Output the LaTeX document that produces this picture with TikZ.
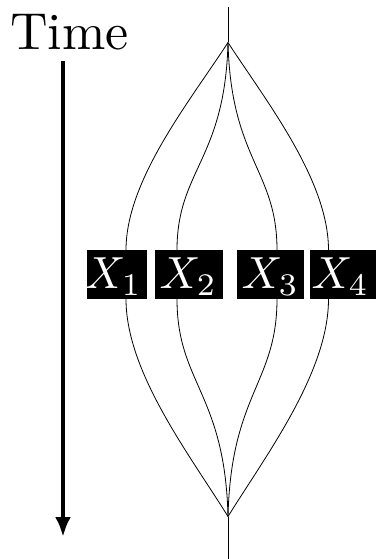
\documentclass[tikz,border=0pt]{standalone}
\usetikzlibrary{arrows.meta}
\begin{document}
\begin{tikzpicture}[x=1pt,y=-1pt,
  thin line/.style={line width=0.8pt},
  xbox/.style={fill=black, draw=none, minimum height=49pt, inner sep=0pt},
  xlab/.style={text=white, scale=4.5, inner sep=0pt, anchor=base east},
  timearrow/.style={line width=4pt, -{Latex[length=20pt,width=16pt]}}]
\useasboundingbox (0,0) rectangle (375,559);
% time label and arrow
\node[scale=5.2, anchor=base west, inner sep=0pt] (time) at (9,50) {Time};
\coordinate (ta) at (63,61);
\coordinate (tb) at (63,537);
\draw[timearrow] (ta) -- (tb);
% boxes
\node[xbox, minimum width=60pt] (b1) at (117.3,274.5) {};
\node[xbox, minimum width=67.7pt] (b2) at (188.9,274.5) {};
\node[xbox, minimum width=66.7pt] (b3) at (270.3,274.5) {};
\node[xbox, minimum width=67pt] (b4) at (343.5,274.5) {};
\node[xlab] (l1) at (143,288.5) {$X_1$};
\node[xlab] (l2) at (218,288.5) {$X_2$};
\node[xlab] (l3) at (300,288.5) {$X_3$};
\node[xlab] (l4) at (370,288.5) {$X_4$};
% attach points
\coordinate (a1t) at (126,250); \coordinate (a1b) at (126,299);
\coordinate (a2t) at (177,250); \coordinate (a2b) at (177,299);
\coordinate (a3t) at (277,250); \coordinate (a3b) at (277,299);
\coordinate (a4t) at (328.5,250); \coordinate (a4b) at (328.5,299);
\coordinate (top) at (228,42.5);
\coordinate (bot) at (228,516.5);
\coordinate (vt) at (228,7);
\coordinate (vb) at (228,559);
\draw[thin line] (vt) -- (top);
\draw[thin line] (bot) -- (vb);
% top curves
\draw[thin line] (top) .. controls (190,101) and (126,180) .. (a1t);
\draw[thin line] (top) .. controls (225,160) and (177,170) .. (a2t);
\draw[thin line] (top) .. controls (231,160) and (277,170) .. (a3t);
\draw[thin line] (top) .. controls (266,101) and (328.5,180) .. (a4t);
% bottom curves
\draw[thin line] (a1b) .. controls (126,372.4) and (190,455.2) .. (bot);
\draw[thin line] (a2b) .. controls (177,383) and (225,393.4) .. (bot);
\draw[thin line] (a3b) .. controls (277,383) and (231,393.4) .. (bot);
\draw[thin line] (a4b) .. controls (328.5,372.4) and (266,455.2) .. (bot);
\end{tikzpicture}
\end{document}
